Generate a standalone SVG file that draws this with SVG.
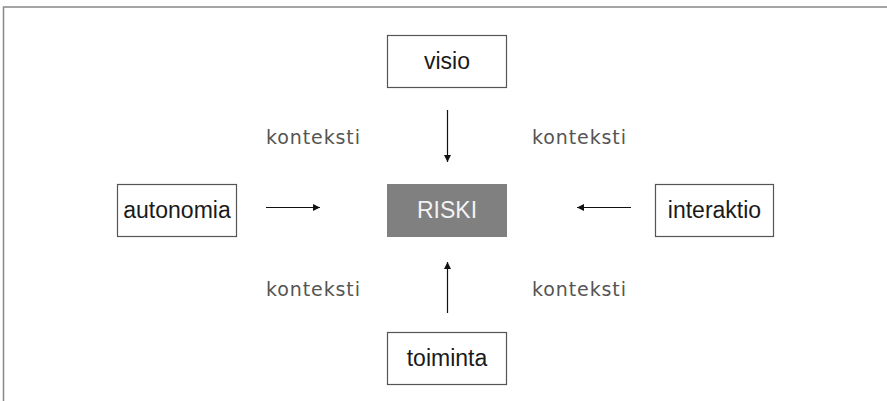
<svg xmlns="http://www.w3.org/2000/svg" width="887" height="401" viewBox="0 0 887 401">
<style>
.box{fill:#fff;stroke:#555;stroke-width:1.2}
.lbl{font-family:"Liberation Sans",Arial,sans-serif;font-size:23px;fill:#1a1a1a;text-anchor:middle}
.ctx{font-family:"DejaVu Sans",sans-serif;font-size:19px;fill:#555}
.conn line{stroke:#111;stroke-width:1.2;marker-end:url(#ah)}
</style>
<defs>
<marker id="ah" viewBox="0 0 10 10" refX="10" refY="5" markerWidth="7" markerHeight="7" markerUnits="userSpaceOnUse" orient="auto">
<path d="M0,0 L10,5 L0,10 z" fill="#111"/>
</marker>
</defs>
<rect width="887" height="401" fill="#fff"/>
<path d="M3.5,401 V7 H887" fill="none" stroke="#888" stroke-width="1.5"/>
<g id="visio"><rect class="box" x="387.5" y="35.5" width="119" height="52"/><text class="lbl" x="447" y="69">visio</text></g>
<g id="riski"><rect x="387" y="184" width="120" height="53" fill="#808080"/><text class="lbl" x="447" y="218" style="fill:#f2f2f2">RISKI</text></g>
<g id="autonomia"><rect class="box" x="117.5" y="184.5" width="119" height="52"/><text class="lbl" x="177" y="218">autonomia</text></g>
<g id="interaktio"><rect class="box" x="655.5" y="184.5" width="118" height="52"/><text class="lbl" x="714.5" y="218">interaktio</text></g>
<g id="toiminta"><rect class="box" x="387.5" y="332.5" width="119" height="52"/><text class="lbl" x="447" y="366">toiminta</text></g>
<g id="labels">
<text class="ctx" x="266" y="144" textLength="94">konteksti</text>
<text class="ctx" x="532" y="144" textLength="94">konteksti</text>
<text class="ctx" x="266" y="296" textLength="94">konteksti</text>
<text class="ctx" x="532" y="296" textLength="94">konteksti</text>
</g>
<g class="conn" id="connectors">
<line x1="447.5" y1="110" x2="447.5" y2="162"/>
<line x1="266" y1="207.5" x2="320" y2="207.5"/>
<line x1="631" y1="207.5" x2="577" y2="207.5"/>
<line x1="447.5" y1="313" x2="447.5" y2="262"/>
</g>
</svg>
